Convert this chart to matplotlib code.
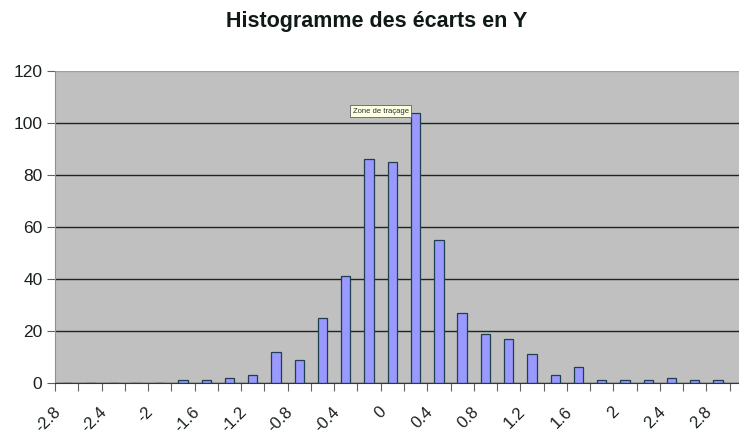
import matplotlib
matplotlib.use("Agg")
import matplotlib.pyplot as plt
import matplotlib.transforms as mtransforms
import numpy as np

plt.rcParams['font.family'] = ['Liberation Sans', 'DejaVu Sans']

# bin centres (width 0.2) and counts
bin_centres = [-2.7, -2.5, -2.3, -2.1, -1.9, -1.7, -1.5, -1.3, -1.1, -0.9, -0.7, -0.5, -0.3, -0.1,
               0.1, 0.3, 0.5, 0.7, 0.9, 1.1, 1.3, 1.5, 1.7, 1.9, 2.1, 2.3, 2.5, 2.7, 2.9]
counts = [0, 0, 0, 0, 0, 1, 1, 2, 3, 12, 9, 25, 41, 86,
          85, 104, 55, 27, 19, 17, 11, 3, 6, 1, 1, 1, 2, 1, 1]
y_ticks = [0, 20, 40, 60, 80, 100, 120]

fig = plt.figure(figsize=(7.39, 4.38), dpi=100)
ax = fig.add_axes([55 / 739, 1 - 383 / 438, 1 - 55 / 739, (383 - 71) / 438])
ax.set_facecolor('#C0C0C0')

ax.bar(bin_centres, counts, width=0.08, color='#9999FF', edgecolor='#1f3f4f', linewidth=0.9, zorder=3)

ax.set_xlim(-2.8, 3.08)
ax.set_ylim(0, 120)

# y axis
ax.set_yticks(y_ticks)
ax.yaxis.grid(True, color='#1a2626', linewidth=1.0, zorder=1)
ax.get_ygridlines()[-1].set_color('#a0a0a0')
ax.tick_params(axis='y', direction='out', length=6, color='#606060', labelsize=12.5, labelcolor='#1a2020', pad=3)

# x axis: a tick every 0.2, a label every 0.4
xt = np.round(np.arange(-2.8, 3.01, 0.2), 1)
labels = ['%g' % v if i % 2 == 0 else '' for i, v in enumerate(xt)]
ax.set_xticks(xt)
ax.set_xticklabels(labels)
ax.tick_params(axis='x', direction='out', length=6, color='#606060', labelsize=12, labelcolor='#1a2020', pad=13)
offset = mtransforms.ScaledTranslation(3 / 100, 0, fig.dpi_scale_trans)
for lab in ax.get_xticklabels():
    lab.set_rotation(45)
    lab.set_rotation_mode('anchor')
    lab.set_ha('right')
    lab.set_va('center')
    lab.set_transform(lab.get_transform() + offset)

for side in ['top', 'right']:
    ax.spines[side].set_visible(False)
ax.spines['left'].set_color('#909090')
ax.spines['bottom'].set_color('#303838')
ax.spines['bottom'].set_zorder(4)

# tooltip left over from the spreadsheet
ax.text(0.0, 104.6, 'Zone de traçage', fontsize=5.5, color='#203030', ha='center', va='center', zorder=5,
        bbox=dict(boxstyle='square,pad=0.3', facecolor='#FFFFE1', edgecolor='#606060', linewidth=0.6))

fig.text(377 / 739, 1 - 22 / 438, 'Histogramme des écarts en Y', ha='center', va='center',
         fontsize=15.5, fontweight='bold', color='#101818')

fig.savefig('out.png', dpi=100)
